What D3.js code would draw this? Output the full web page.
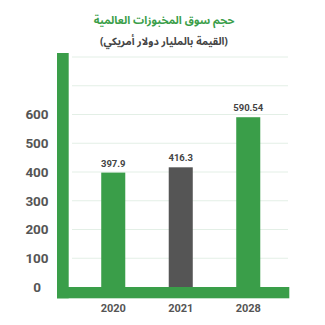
<!DOCTYPE html>
<html>
<head>
<meta charset="utf-8">
<script src="https://cdn.jsdelivr.net/npm/d3@7"></script>
<style>
  html, body { margin: 0; padding: 0; background: #fff; }
  svg { display: block; }
</style>
</head>
<body>
<div id="chart"></div>
<script>
// Global bakery market size (USD billion)
const years = ["2020", "2021", "2028"];
const values = [397.9, 416.3, 590.54];
const valueLabels = ["397.9", "416.3", "590.54"];
const barColors = ["#3a9e49", "#555555", "#3a9e49"];
const tickValues = [0, 100, 200, 300, 400, 500, 600];
const gridValues = [100, 200, 300, 400, 500, 600, 700, 800];
const title = "حجم سوق المخبوزات العالمية";
const subtitle = "(القيمة بالمليار دولار أمريكي)";

const W = 325, H = 325;
const green = "#3a9e49";
const arabicFont = "'Noto Sans Arabic', 'DejaVu Sans', sans-serif";
const numFont = "Roboto, 'DejaVu Sans', sans-serif";

const svg = d3.select("#chart").append("svg")
  .attr("width", W).attr("height", H);

const x = d3.scaleBand()
  .domain(years)
  .range([79.5, 282])
  .paddingInner(0.644)
  .paddingOuter(0.322);

const y = d3.scaleLinear()
  .domain([0, 800])
  .range([287, 57]);

// Title block
svg.append("text")
  .attr("x", 164).attr("y", 24)
  .attr("text-anchor", "middle")
  .attr("direction", "rtl")
  .style("font-family", arabicFont)
  .style("font-weight", "bold")
  .style("font-size", "11px")
  .attr("fill", green)
  .text(title);

svg.append("text")
  .attr("x", 164).attr("y", 45)
  .attr("text-anchor", "middle")
  .attr("direction", "rtl")
  .style("font-family", arabicFont)
  .style("font-weight", "bold")
  .style("font-size", "10.5px")
  .attr("fill", "#444")
  .text(subtitle);

// Horizontal grid
svg.append("g")
  .selectAll("line")
  .data(gridValues)
  .join("line")
  .attr("x1", 72).attr("x2", 288)
  .attr("y1", d => y(d)).attr("y2", d => y(d))
  .attr("stroke", "#e3efe6")
  .attr("stroke-width", 1);

// Y tick labels
svg.append("g")
  .selectAll("text")
  .data(tickValues)
  .join("text")
  .attr("x", 37)
  .attr("y", d => y(d))
  .attr("dy", "0.36em")
  .attr("text-anchor", "middle")
  .style("font-family", numFont)
  .style("font-weight", "bold")
  .style("font-size", "13.5px")
  .attr("fill", "#555")
  .text(d => d);

// Bars
const data = years.map((yr, i) => ({ yr, v: values[i], label: valueLabels[i], color: barColors[i] }));

svg.append("g")
  .selectAll("rect")
  .data(data)
  .join("rect")
  .attr("x", d => x(d.yr))
  .attr("width", x.bandwidth())
  .attr("y", d => y(d.v))
  .attr("height", d => y(0) - y(d.v))
  .attr("fill", d => d.color);

// Value labels
svg.append("g")
  .selectAll("text")
  .data(data)
  .join("text")
  .attr("x", d => x(d.yr) + x.bandwidth() / 2)
  .attr("y", d => y(d.v) - 6)
  .attr("text-anchor", "middle")
  .style("font-family", numFont)
  .style("font-weight", "bold")
  .style("font-size", "9.5px")
  .attr("fill", "#444")
  .text(d => d.label);

// L-shaped axis frame
svg.append("rect")
  .attr("x", 57).attr("width", 11.7)
  .attr("y", y(800) - 4).attr("height", 298.3 - (y(800) - 4))
  .attr("fill", green);
svg.append("rect")
  .attr("x", 57).attr("width", 289.3 - 57)
  .attr("y", y(0)).attr("height", 11.3)
  .attr("fill", green);

// Year labels
svg.append("g")
  .selectAll("text")
  .data(years)
  .join("text")
  .attr("x", d => x(d) + x.bandwidth() / 2)
  .attr("y", 312)
  .attr("text-anchor", "middle")
  .style("font-family", numFont)
  .style("font-weight", "bold")
  .style("font-size", "11px")
  .attr("fill", "#555")
  .text(d => d);
</script>
</body>
</html>
